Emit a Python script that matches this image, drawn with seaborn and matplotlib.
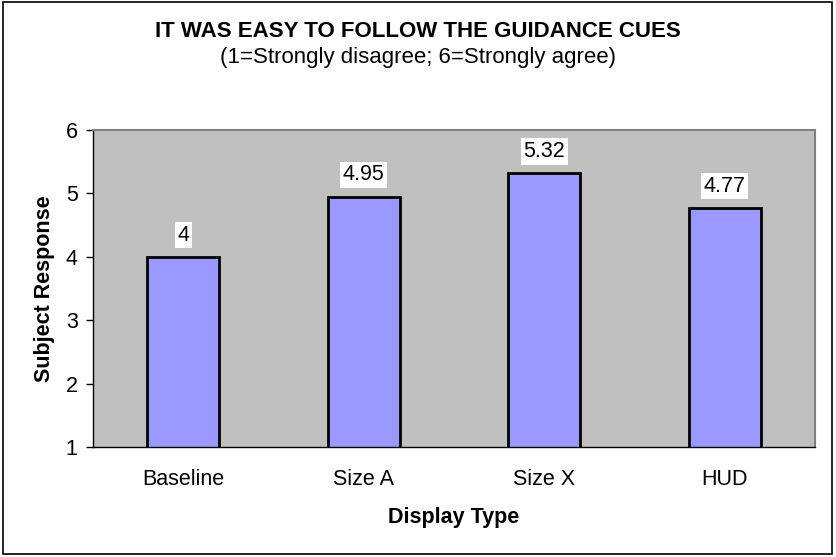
import matplotlib
matplotlib.use("Agg")
import matplotlib.pyplot as plt
import seaborn as sns
import pandas as pd
from matplotlib.patches import Rectangle

# chart data
display_types = ["Baseline", "Size A", "Size X", "HUD"]
responses = [4.0, 4.95, 5.32, 4.77]
value_labels = ["4", "4.95", "5.32", "4.77"]

df = pd.DataFrame({"Display Type": display_types, "Subject Response": responses})

sns.set_style("white")
plt.rcParams["font.family"] = ["Liberation Sans", "DejaVu Sans"]
plt.rcParams["text.color"] = "black"
plt.rcParams["axes.labelcolor"] = "black"
plt.rcParams["xtick.color"] = "black"
plt.rcParams["ytick.color"] = "black"

fs = 15.5

fig = plt.figure(figsize=(8.36, 5.57), dpi=100)
ax = fig.add_axes([0.1112, 0.1975, 0.8638, 0.5691])
ax.set_facecolor("#C0C0C0")

sns.barplot(data=df, x="Display Type", y="Subject Response", color="#9999FF",
            edgecolor="black", linewidth=2, width=0.4, saturation=1, ax=ax)

ax.set_ylim(1, 6)
ax.set_xlim(-0.5, 3.5)
ax.set_yticks(range(1, 7))

# category ticks sit between bars like Excel
ax.set_xticks([i - 0.5 for i in range(len(display_types) + 1)], minor=True)
ax.tick_params(axis="x", which="major", length=0, labelsize=fs, pad=16)
ax.tick_params(axis="x", which="minor", length=5, width=1, color="black", direction="out")
ax.tick_params(axis="y", length=5, width=1, color="black", direction="out", labelsize=fs,
               left=True, pad=6)

for side in ["left", "bottom"]:
    ax.spines[side].set_color("black")
    ax.spines[side].set_linewidth(1)
for side in ["top", "right"]:
    ax.spines[side].set_color("#808080")
    ax.spines[side].set_linewidth(1.5)

ax.set_xlabel("Display Type", fontsize=fs, fontweight="bold", labelpad=12)
ax.set_ylabel("Subject Response", fontsize=fs, fontweight="bold", labelpad=8)

for patch, lab in zip(ax.patches, value_labels):
    ax.annotate(lab, (patch.get_x() + patch.get_width() / 2, patch.get_height()),
                xytext=(0, 8), textcoords="offset points", ha="center", va="bottom",
                fontsize=fs, bbox=dict(boxstyle="square,pad=0.12", fc="white", ec="none"))

fig.text(0.5, 0.944, "IT WAS EASY TO FOLLOW THE GUIDANCE CUES", ha="center", va="center",
         fontsize=16, fontweight="bold")
fig.text(0.5, 0.897, "(1=Strongly disagree; 6=Strongly agree)", ha="center", va="center",
         fontsize=16)

# outer chart border
fig.patches.append(Rectangle((0.003, 0.005), 0.992, 0.991, transform=fig.transFigure,
                             fill=False, edgecolor="black", linewidth=1.2))

fig.savefig("out.png", dpi=100)
